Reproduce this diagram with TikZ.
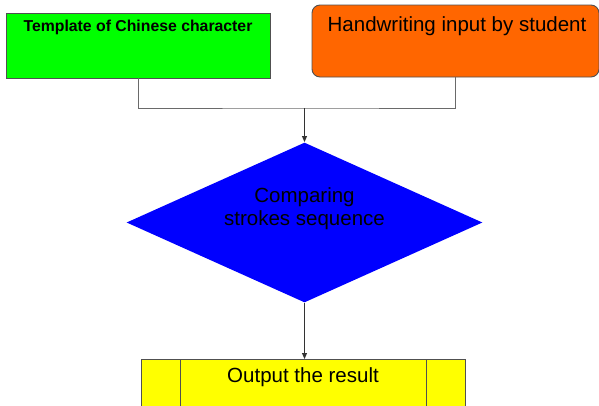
\documentclass[tikz,border=0pt]{standalone}
\usepackage{fontspec}
\setmainfont{Liberation Sans}
\usetikzlibrary{shapes.geometric,arrows.meta}
\definecolor{boxline}{HTML}{505050}
\definecolor{connline}{HTML}{6A6A6A}
\definecolor{greenfill}{HTML}{00FF00}
\definecolor{orangefill}{HTML}{FF6600}
\definecolor{bluefill}{HTML}{0000FF}
\definecolor{yellowfill}{HTML}{FFFF00}
\tikzset{
  boxstyle/.style={draw=boxline, line width=0.9pt, inner sep=0pt},
  txt/.style={font=\fontsize{20.5}{23}\selectfont, inner sep=0pt, text=black},
  boldtxt/.style={font=\fontsize{15.8}{18}\selectfont\bfseries, inner sep=0pt, text=black},
  conn/.style={draw=connline, line width=1pt},
  arr/.style={draw=black!80, line width=0.9pt, -{Triangle[length=6pt,width=5pt]}}
}
\begin{document}
\begin{tikzpicture}[x=1pt,y=-1pt]
\useasboundingbox (0,0) rectangle (599,405);
\clip (0,0) rectangle (599,405);
\fill[white] (0,0) rectangle (599,405);
% boxes
\node[boxstyle, fill=greenfill, minimum width=264pt, minimum height=65pt] (tmpl) at (138,45.5) {};
\node[boldtxt] (tmpltxt) at (138,27) {Template of Chinese character};
\node[boxstyle, fill=orangefill, rounded corners=8pt, minimum width=287pt, minimum height=72pt] (hand) at (455.5,41) {};
\node[txt] (handtxt) at (457,26) {Handwriting input by student};
% diamond
\node[boxstyle, draw=none, fill=bluefill, diamond, aspect=2.225, minimum width=356pt, minimum height=160pt] (cmp) at (304.5,222.5) {};
\node[txt, align=center] (cmptxt) at (304.5,209) {Comparing\\strokes sequence};
% output box
\node[boxstyle, fill=yellowfill, minimum width=324pt, minimum height=70pt, anchor=north] (out) at (303,359) {};
\coordinate (outL) at ([xshift=40pt]out.north west);
\coordinate (outR) at ([xshift=-39pt]out.north east);
\draw[boxline, line width=0.9pt] (outL) -- (outL |- out.south);
\draw[boxline, line width=0.9pt] (outR) -- (outR |- out.south);
\node[txt] (outtxt) at (303,377) {Output the result};
% connectors
\coordinate (join) at (304.5,108);
\draw[conn] (tmpl.south) |- (join) -| (hand.south);
\draw[arr] (join) -- (cmp.north);
\draw[arr] (cmp.south) -- (cmp.south |- out.north);
\end{tikzpicture}
\end{document}
